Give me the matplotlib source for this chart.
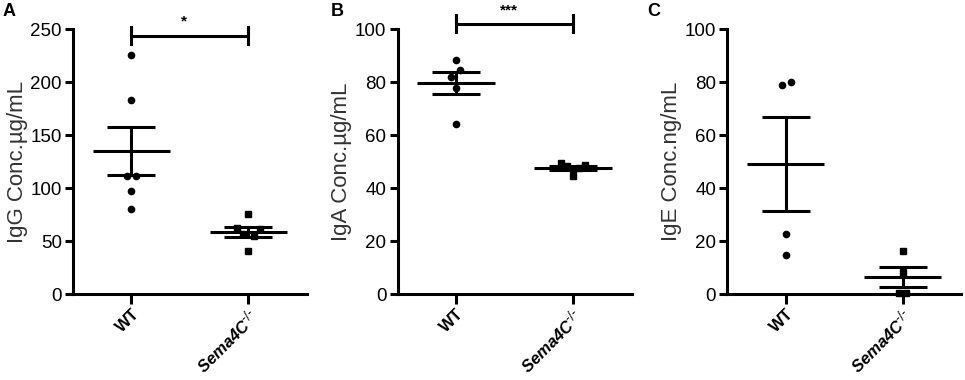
import numpy as np
import matplotlib
matplotlib.use('Agg')
import matplotlib.pyplot as plt

plt.rcParams['font.family'] = ['Liberation Sans', 'DejaVu Sans']

groups = ['WT', r'Sema4C$^{\text{-/-}}$']

# IgG (ug/mL)
igg_wt = [225.5, 183, 111.3, 111.3, 97.5, 80.5]
igg_ko = [75.5, 62, 61, 57, 55, 40.6]
igg_mean = [134.9, 58.4]
igg_sem = [22.8, 4.8]

# IgA (ug/mL)
iga_wt = [88.4, 84.6, 81.9, 77.7, 64.2]
iga_ko = [49.6, 48.8, 48.2, 47.6, 47.2, 44.6]
iga_mean = [79.6, 47.7]
iga_sem = [4.2, 0.8]

# IgE (ng/mL)
ige_wt = [79.0, 80.2, 22.7, 14.7]
ige_ko = [16.2, 8.2, 0.3, 0.3]
ige_mean = [49.0, 6.5]
ige_sem = [17.7, 3.9]

# small horizontal jitter so overlapping dots stay visible
jit_igg = ([0, 0, -0.04, 0.04, 0, 0], [0, -0.1, 0.1, -0.05, 0.05, 0])
jit_iga = ([0, 0.035, -0.04, 0, 0], [-0.1, 0.1, -0.05, 0.05, 0, 0])
jit_ige = ([-0.03, 0.04, 0, 0], [0, 0, -0.03, 0.03])

panels = [
    ('A', 'IgG Conc.µg/mL', igg_wt, igg_ko, igg_mean, igg_sem, jit_igg, 250, 50, '*', 244),
    ('B', 'IgA Conc.µg/mL', iga_wt, iga_ko, iga_mean, iga_sem, jit_iga, 100, 20, '***', 102),
    ('C', 'IgE Conc.ng/mL', ige_wt, ige_ko, ige_mean, ige_sem, jit_ige, 100, 20, None, None),
]

lefts = [0.0756, 0.412, 0.7537]
letter_x = [0.003, 0.343, 0.671]
lw = 2.2

fig = plt.figure(figsize=(9.65, 3.8), dpi=100)

for (letter, ylabel, wt, ko, mean, sem, jit, ymax, step, star, sig_y), left, lx in zip(panels, lefts, letter_x):
    ax = fig.add_axes([left, 0.226, 0.2425, 0.697])
    ax.set_xlim(-0.5, 1.5)
    ax.set_ylim(0, ymax)

    ax.plot(np.zeros(len(wt)) + np.array(jit[0]), wt, 'o', color='black', ms=4.5, clip_on=False, zorder=3)
    ax.plot(np.ones(len(ko)) + np.array(jit[1]), ko, 's', color='black', ms=4.5, clip_on=False, zorder=3)

    for i in range(2):
        ax.plot([i - 0.33, i + 0.33], [mean[i], mean[i]], color='black', lw=lw, solid_capstyle='butt', zorder=4)
        ax.errorbar(i, mean[i], yerr=sem[i], fmt='none', ecolor='black', elinewidth=lw,
                    capsize=17, capthick=lw, zorder=4)

    if star:
        h = ymax * 0.032
        ax.plot([0, 0, 0, 1, 1, 1], [sig_y - h, sig_y + h, sig_y, sig_y, sig_y + h, sig_y - h],
                color='black', lw=lw, clip_on=False)
        ax.annotate(star, xy=(0.45, sig_y), xytext=(0, 5), textcoords='offset points',
                    ha='center', va='bottom', fontsize=11, fontweight='bold',
                    annotation_clip=False)

    ax.spines['top'].set_visible(False)
    ax.spines['right'].set_visible(False)
    for s in ['left', 'bottom']:
        ax.spines[s].set_linewidth(lw)
    ax.set_yticks(np.arange(0, ymax + 1, step))
    ax.tick_params(axis='y', length=6, width=lw, labelsize=13.5, pad=2)
    ax.tick_params(axis='x', length=7, width=lw, pad=2)
    ax.set_xticks([0, 1])
    ax.set_xticklabels(groups, rotation=45, ha='right', rotation_mode='anchor',
                       fontsize=12, fontweight='bold')
    ax.get_xticklabels()[1].set_fontstyle('italic')
    ax.set_ylabel(ylabel, fontsize=16, color='#333333', labelpad=2)

    fig.text(lx, 0.97, letter, fontsize=13, fontweight='bold', ha='left', va='center')

fig.savefig('out.png', dpi=100)
